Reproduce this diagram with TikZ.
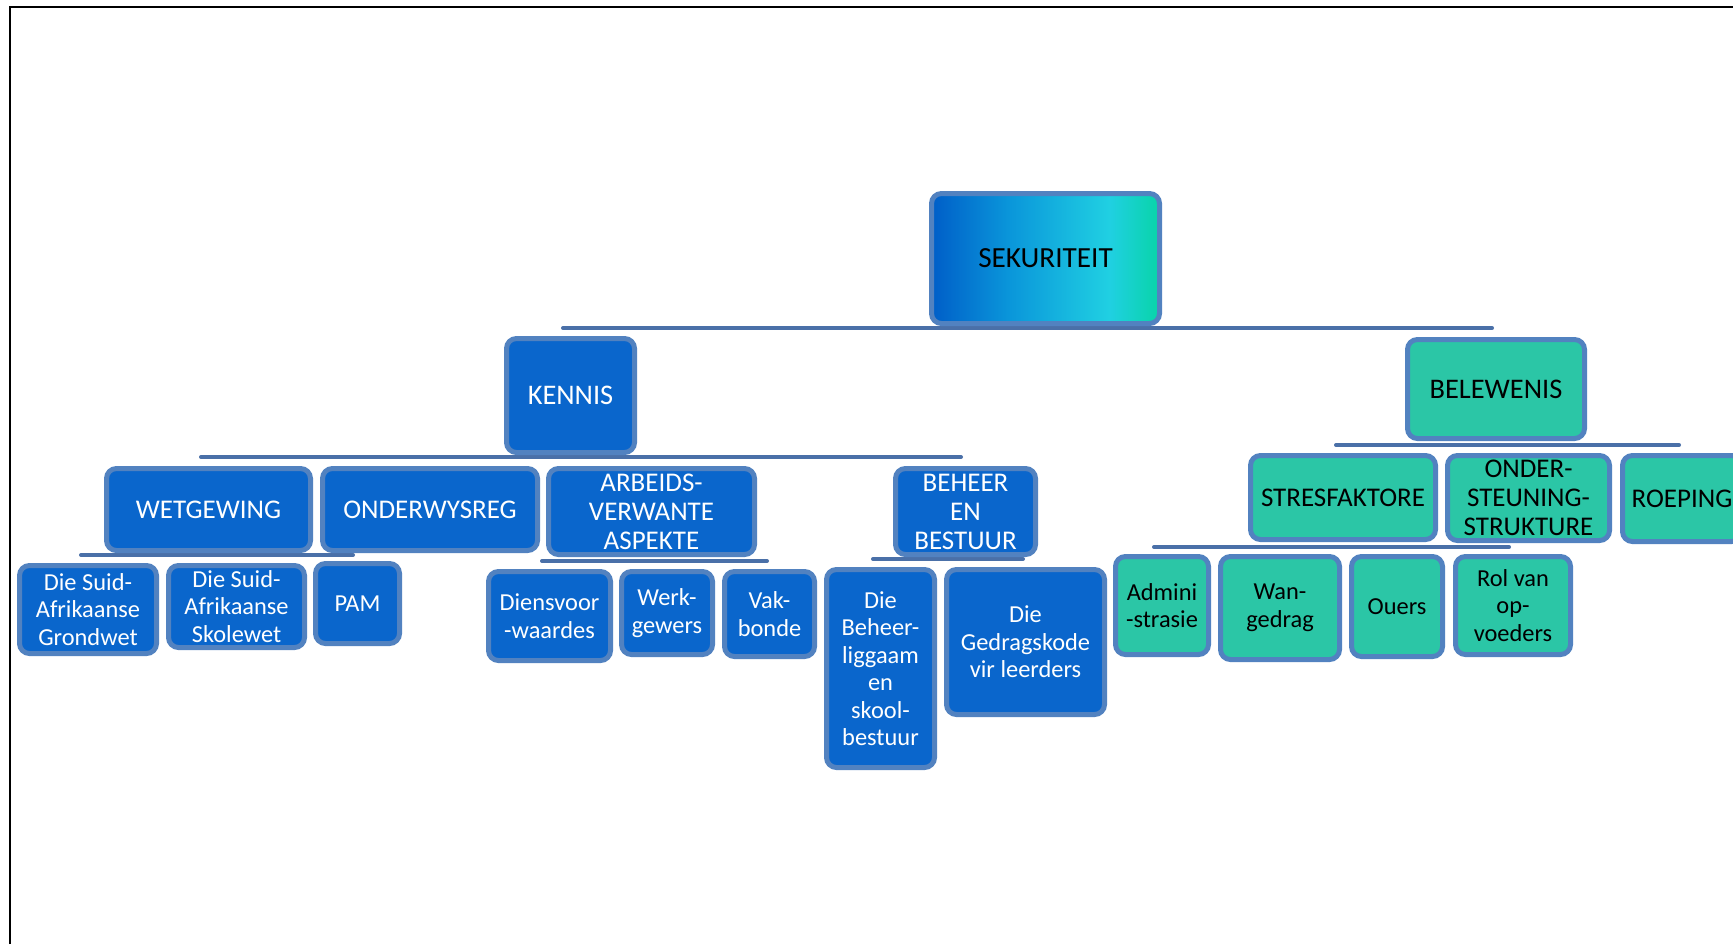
\documentclass[tikz,border=0pt]{standalone}
\usepackage{fontspec}
\setmainfont{Carlito}
\definecolor{kblue}{RGB}{10,102,204}
\definecolor{kbord}{RGB}{82,130,192}
\definecolor{kgreen}{RGB}{43,198,166}
\definecolor{kbar}{RGB}{74,112,168}
\definecolor{sg1}{RGB}{0,94,200}
\definecolor{sg2}{RGB}{10,150,218}
\definecolor{sg3}{RGB}{32,208,226}
\definecolor{sg4}{RGB}{8,212,168}
\pgfdeclarehorizontalshading{sekshade}{100bp}{color(0bp)=(sg1); color(25bp)=(sg1); color(42bp)=(sg2); color(64bp)=(sg3); color(75bp)=(sg4); color(100bp)=(sg4)}
\tikzset{
  boxbase/.style={draw=kbord, line width=2.5pt, rounded corners=5pt, align=center, inner sep=0pt},
  bluebox/.style={boxbase, fill=kblue, text=white},
  greenbox/.style={boxbase, fill=kgreen, text=black},
  topbox/.style={boxbase, shading=sekshade, text=black, font=\fontsize{14.6}{16}\selectfont},
  headfont/.style={font=\fontsize{13.5}{14.5}\selectfont},
  bigfont/.style={font=\fontsize{14.2}{15.5}\selectfont},
  smallfont/.style={font=\fontsize{12.2}{13.75}\selectfont},
  bar/.style={draw=kbar, line width=2pt, line cap=round},
  framel/.style={draw=black, line width=1.4pt}
}
\newcommand\bx[7]{\node[#6, minimum width={(#4-5)*0.5pt}, minimum height={(#5-5)*0.5pt}] (#1) at (#2,#3) {#7};}
\begin{document}
\begin{tikzpicture}[x=0.5pt,y=-0.5pt]
\useasboundingbox (0,0) rectangle (1733,944);
\clip (0,0) rectangle (1733,944);
\fill[white] (0,0) rectangle (1733,944);
% frame
\coordinate (f1) at (10,944);
\coordinate (f2) at (10,7);
\coordinate (f3) at (1733,7);
\draw[framel] (f1) -- (f2) -- (f3);
% bars
\coordinate (b1a) at (563,328);  \coordinate (b1b) at (1492,328);
\coordinate (b2a) at (201,457);  \coordinate (b2b) at (961,457);
\coordinate (b3a) at (1336,445); \coordinate (b3b) at (1679,445);
\coordinate (b4a) at (81,555);   \coordinate (b4b) at (353,555);
\coordinate (b5a) at (542,561);  \coordinate (b5b) at (767,561);
\coordinate (b6a) at (873,559);  \coordinate (b6b) at (1023,559);
\coordinate (b7a) at (1154,547); \coordinate (b7b) at (1509,547);
\draw[bar] (b1a) -- (b1b);
\draw[bar] (b2a) -- (b2b);
\draw[bar] (b3a) -- (b3b);
\draw[bar] (b4a) -- (b4b);
\draw[bar] (b5a) -- (b5b);
\draw[bar] (b6a) -- (b6b);
\draw[bar] (b7a) -- (b7b);
% top
\bx{sek}{1045.5}{258.5}{233}{135}{topbox}{SEKURITEIT}
\bx{kennis}{570.5}{395.5}{133}{119}{bluebox,bigfont}{KENNIS}
\bx{belew}{1496}{389}{182}{104}{greenbox,bigfont}{BELEWENIS}
% kennis level
\bx{wet}{208.5}{509.5}{209}{87}{bluebox,headfont}{WETGEWING}
\bx{ond}{430}{509.5}{220}{87}{bluebox,headfont}{ONDERWYSREG}
\bx{arb}{651.5}{511.5}{211}{91}{bluebox,headfont}{ARBEIDS-\\VERWANTE\\ASPEKTE}
\bx{beh}{965.5}{511.5}{145}{91}{bluebox,headfont}{BEHEER\\EN\\BESTUUR}
% kennis leaves
\bx{grond}{88}{609.5}{142}{93}{bluebox,smallfont}{Die Suid-\\Afrikaanse\\Grondwet}
\bx{skole}{236.5}{606.5}{141}{87}{bluebox,smallfont}{Die Suid-\\Afrikaanse\\Skolewet}
\bx{pam}{357.5}{603.5}{89}{85}{bluebox,smallfont}{PAM}
\bx{diens}{549.5}{616}{127}{94}{bluebox,smallfont}{Diensvoor\\-waardes}
\bx{werk}{667}{613}{96}{88}{bluebox,smallfont}{Werk-\\gewers}
\bx{vak}{769.5}{614}{95}{90}{bluebox,smallfont}{Vak-\\bonde}
\bx{liggaam}{880.5}{668.5}{113}{203}{bluebox,smallfont}{Die\\Beheer-\\liggaam\\en\\skool-\\bestuur}
\bx{gedrag}{1025.5}{642}{163}{150}{bluebox,smallfont}{Die\\Gedragskode\\vir leerders}
% belewenis level
\bx{stres}{1343}{497.5}{190}{89}{greenbox,headfont}{STRESFAKTORE}
\bx{onder}{1528.5}{498}{167}{90}{greenbox,headfont}{ONDER-\\STEUNING-\\STRUKTURE}
\bx{roep}{1682}{498.5}{124}{91}{greenbox,headfont}{ROEPING}
% belewenis leaves
\bx{admin}{1162}{605.5}{98}{103}{greenbox,smallfont}{Admini\\-strasie}
\bx{wan}{1280}{608}{124}{108}{greenbox,smallfont}{Wan-\\gedrag}
\bx{ouers}{1397}{606.5}{96}{105}{greenbox,smallfont}{Ouers}
\bx{rol}{1513}{605.5}{120}{103}{greenbox,smallfont}{Rol van\\op-\\voeders}
\end{tikzpicture}
\end{document}
